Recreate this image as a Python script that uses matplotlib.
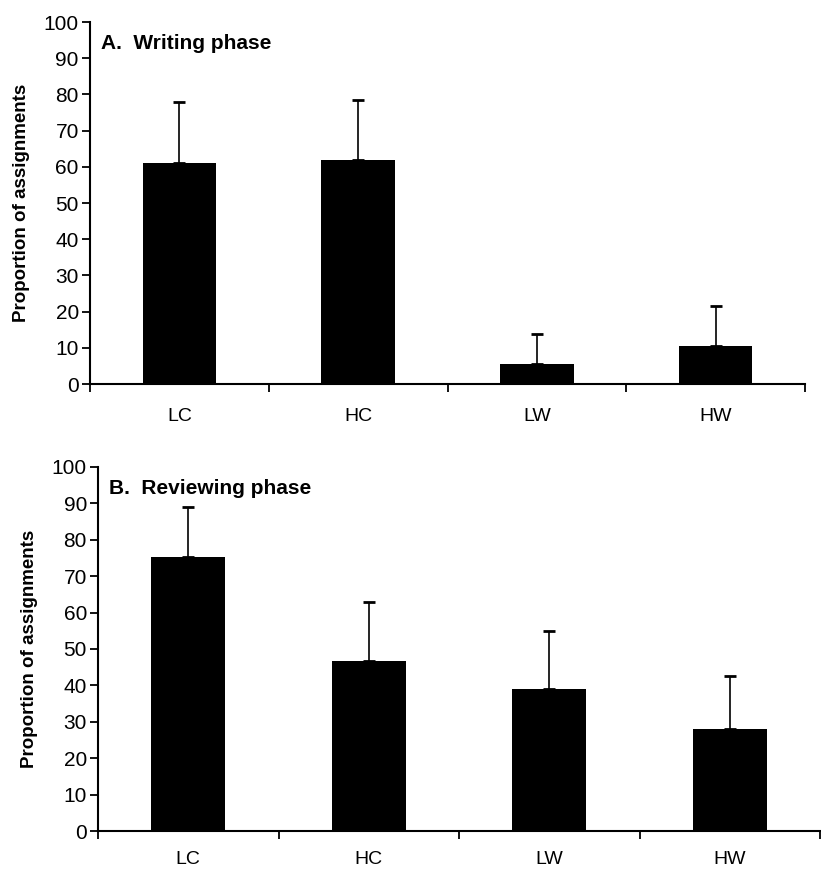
import numpy as np
import matplotlib.pyplot as plt

# Données
categories = ['LC', 'HC', 'LW', 'HW']
ecriture = [61, 62, 5.5, 10.5]
ecriture_err = [17, 16.5, 8.3, 11]
revision = [75.3, 46.8, 39, 28]
revision_err = [13.7, 16.2, 16, 14.7]
titres = ['A.  Writing phase', 'B.  Reviewing phase']

plt.rcParams['font.family'] = ['Liberation Sans', 'DejaVu Sans']

fig = plt.figure(figsize=(8.21, 8.69), dpi=100)
ax_a = fig.add_axes([0.1096, 0.558, 0.871, 0.4166])
ax_b = fig.add_axes([0.1194, 0.0437, 0.8796, 0.419])


def panneau(ax, valeurs, erreurs, titre, ypad):
    x = np.arange(len(categories))
    ax.bar(x, valeurs, width=0.41, color='black', zorder=2)
    ax.errorbar(x, valeurs, yerr=[np.zeros(len(valeurs)), erreurs], fmt='none',
                ecolor='black', elinewidth=1.2, capsize=4.5, capthick=2, zorder=3)
    ax.set_xlim(-0.5, len(categories) - 0.5)
    ax.set_ylim(0, 100)
    ax.set_yticks(np.arange(0, 101, 10))
    ax.set_xticks(np.arange(len(categories) + 1) - 0.5)
    ax.set_xticklabels([])
    ax.set_xticks(x, minor=True)
    ax.set_xticklabels(categories, minor=True, fontsize=14)
    ax.tick_params(axis='x', which='minor', length=0, pad=ypad)
    ax.tick_params(axis='x', which='major', length=6, width=1.3, direction='out')
    ax.tick_params(axis='y', length=6, width=1.3, direction='out', pad=2, labelsize=15)
    for s in ['top', 'right']:
        ax.spines[s].set_visible(False)
    for s in ['left', 'bottom']:
        ax.spines[s].set_linewidth(1.5)
    ax.set_ylabel('Proportion of assignments', fontsize=13.5, fontweight='bold', labelpad=10)
    ax.text(0.015, 0.94, titre, transform=ax.transAxes, fontsize=15, fontweight='bold',
            va='center', ha='left')


panneau(ax_a, ecriture, ecriture_err, titres[0], 17)
panneau(ax_b, revision, revision_err, titres[1], 14.5)

fig.savefig('out.png', dpi=100)
